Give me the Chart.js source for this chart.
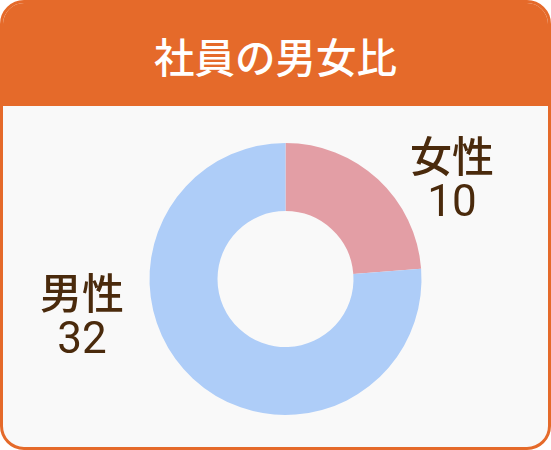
<!DOCTYPE html>
<html lang="ja">
<head>
<meta charset="UTF-8">
<title>社員の男女比</title>
<script src="https://cdn.jsdelivr.net/npm/chart.js@4.4.1/dist/chart.umd.min.js"></script>
<style>
  html, body { margin: 0; padding: 0; background: #ffffff; }
  .card {
    width: 551px; height: 450px; box-sizing: border-box;
    border: 3px solid #e56a2a; border-radius: 24px;
    background: #f9f9f9; overflow: hidden;
  }
  .card__head {
    height: 103px; background: #e56a2a; color: #ffffff;
    display: flex; align-items: center; justify-content: center;
    font-family: "Noto Sans CJK JP", "Noto Sans", sans-serif;
    font-size: 40.5px; font-weight: 500;
    padding-top: 2px; box-sizing: border-box;
  }
  .card__body { height: 341px; }
  canvas { display: block; }
</style>
</head>
<body>
<div class="card">
  <div class="card__head">社員の男女比</div>
  <div class="card__body">
    <canvas id="chart" width="545" height="341"></canvas>
  </div>
</div>
<script>
// datos del grafico
const categorias = ['女性', '男性'];
const valores = [10, 32];
const colores = ['#e39ea5', '#aecdf8'];

// etiquetas fuera del anillo (posicion relativa al radio exterior)
const etiquetas = {
  id: 'etiquetas',
  afterDraw(chart, args, opts) {
    const ctx = chart.ctx;
    const meta = chart.getDatasetMeta(0);
    meta.data.forEach((arc, i) => {
      const r = arc.outerRadius;
      const x = arc.x + r * opts.offsets[i][0];
      const y = arc.y + r * opts.offsets[i][1];
      ctx.save();
      ctx.fillStyle = opts.color;
      ctx.textAlign = 'center';
      ctx.textBaseline = 'middle';
      ctx.font = '500 42px "Noto Sans CJK JP", sans-serif';
      ctx.fillText(chart.data.labels[i], x, y - 24);
      ctx.font = '400 44px Roboto, "Noto Sans CJK JP", sans-serif';
      ctx.fillText(chart.data.datasets[0].data[i], x, y + 25);
      ctx.restore();
    });
  }
};

const chart = new Chart(document.getElementById('chart').getContext('2d'), {
  type: 'doughnut',
  data: {
    labels: categorias,
    datasets: [{
      data: valores,
      backgroundColor: colores,
      borderWidth: 0,
      hoverOffset: 0
    }]
  },
  options: {
    responsive: false,
    animation: false,
    cutout: '50%',
    layout: { padding: { top: 37, bottom: 32, left: 146.5, right: 126.5 } },
    plugins: {
      legend: { display: false },
      tooltip: { enabled: false },
      etiquetas: {
        color: '#4a2a0c',
        offsets: [[1.224, -0.728], [-1.496, 0.279]]
      }
    }
  },
  plugins: [etiquetas]
});
</script>
</body>
</html>
